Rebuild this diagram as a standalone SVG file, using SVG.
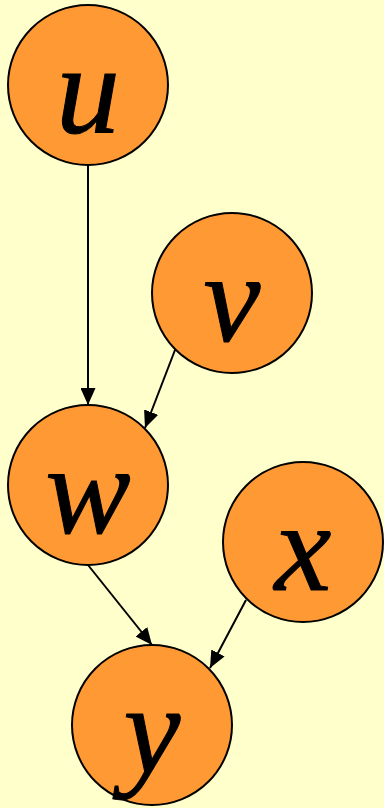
<svg xmlns="http://www.w3.org/2000/svg" width="384" height="808" viewBox="0 0 384 808">
<style>
.n{fill:#FF9933;stroke:#000;stroke-width:2}
.t{font-family:"Liberation Serif","Times New Roman",serif;font-style:italic;font-size:128px;fill:#000;stroke:#000;stroke-width:1;text-anchor:middle}
.e{stroke:#000;stroke-width:2;fill:none;marker-end:url(#a)}
</style>
<defs>
<marker id="a" markerUnits="userSpaceOnUse" markerWidth="17" markerHeight="15" refX="17" refY="7.5" orient="auto">
<path d="M0,0 L17,7.5 L0,15 z" fill="#000"/>
</marker>
</defs>
<rect width="384" height="808" fill="#FFFFCC"/>
<g id="edges">
<line class="e" x1="88" y1="165" x2="88" y2="405"/>
<line class="e" x1="175" y1="350" x2="145" y2="428"/>
<line class="e" x1="88" y1="565" x2="152" y2="645"/>
<line class="e" x1="246" y1="600" x2="210" y2="668"/>
</g>
<g id="u"><circle class="n" cx="88" cy="85" r="80"/><text class="t" x="88" y="133">u</text></g>
<g id="v"><circle class="n" cx="232" cy="293" r="80"/><text class="t" x="232" y="341">v</text></g>
<g id="w"><circle class="n" cx="88" cy="485" r="80"/><text class="t" x="88" y="533">w</text></g>
<g id="x"><circle class="n" cx="303" cy="542" r="80"/><text class="t" x="303" y="590">x</text></g>
<g id="y"><circle class="n" cx="152" cy="725" r="80"/><text class="t" x="152" y="773">y</text></g>
</svg>
